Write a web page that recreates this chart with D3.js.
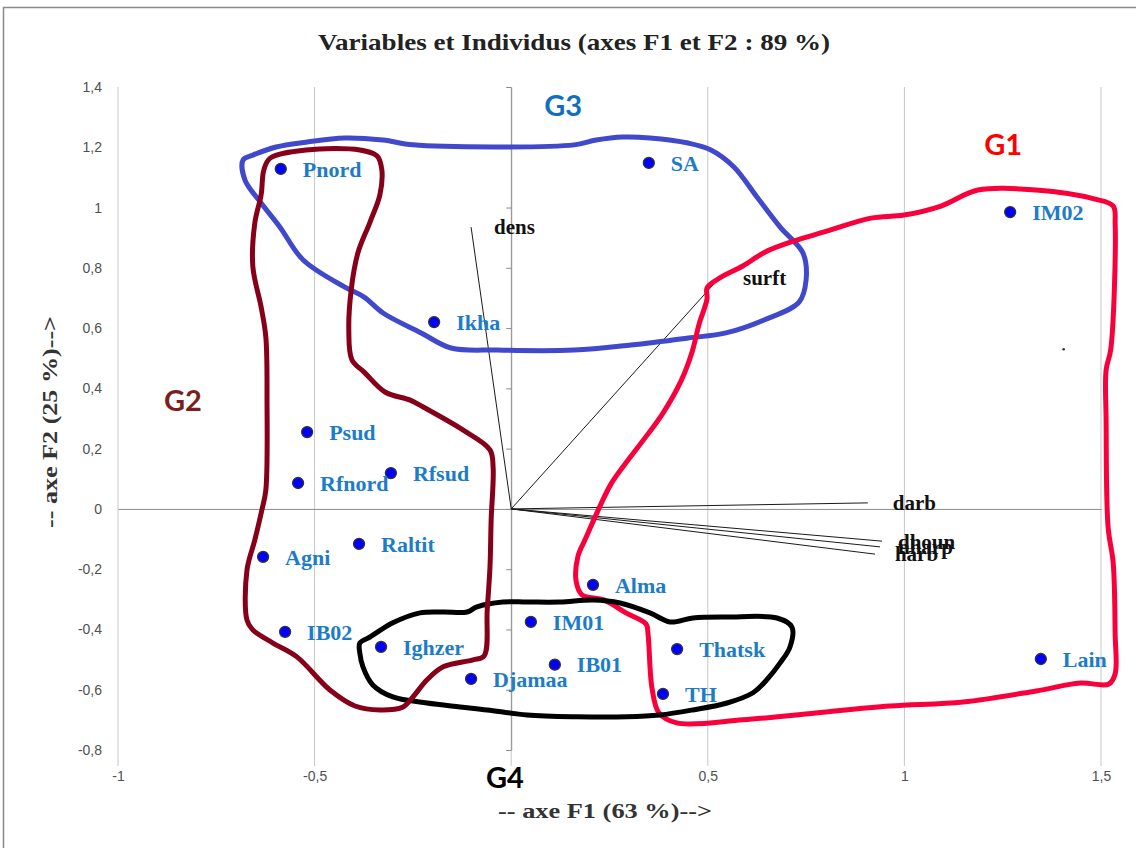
<!DOCTYPE html>
<html>
<head>
<meta charset="utf-8">
<script src="https://cdn.jsdelivr.net/npm/d3@7"></script>
<style>
  body { margin: 0; background: #fff; }
</style>
</head>
<body>
<div id="biplot"></div>
<script>
// individus (coordonnees F1 / F2)
var individus = ["Pnord","SA","IM02","Ikha","Psud","Rfnord","Rfsud","Agni","Raltit","IB02",
                 "Alma","IM01","Ighzer","Djamaa","IB01","Thatsk","TH","Lain"];
var indF1 = [-0.586, 0.350, 1.269, -0.196, -0.519, -0.542, -0.306, -0.631, -0.387, -0.575,
             0.208, 0.050, -0.331, -0.102, 0.111, 0.422, 0.386, 1.347];
var indF2 = [1.128, 1.148, 0.985, 0.620, 0.255, 0.086, 0.119, -0.159, -0.116, -0.408,
             -0.252, -0.375, -0.458, -0.564, -0.517, -0.465, -0.614, -0.498];

// variables (vecteurs)
var variables = ["dens","surft","darb","dhoun","nharp","harb"];
var varF1 = [-0.102, 0.531, 0.907, 0.943, 0.938, 0.925];
var varF2 = [0.935, 0.769, 0.020, -0.107, -0.126, -0.150];
var varDecalage = [23, 23, 25, 16, 18, 20];

// point isole sans etiquette
var pointSeul = [1.405, 0.530];

// groupes
var groupes = ["G1","G2","G3","G4"];
var groupeCouleurs = ["#f8003c","#850018","#4048cc","#000000"];
var groupeTexteCouleurs = ["#ff0000","#7a1f1f","#1070c0","#000000"];
var groupeLabelF1 = [1.251, -0.835, 0.132, -0.016];
var groupeLabelF2 = [1.208, 0.361, 1.340, -0.893];

var contourG1 = [[0.498,0.733],[0.526,0.763],[0.589,0.806],[0.645,0.852],[0.719,0.889],[0.796,0.919],
  [0.915,0.965],[0.999,0.975],[1.093,1.005],[1.187,1.058],[1.335,1.058],[1.485,1.028],[1.531,1.005],
  [1.536,0.945],[1.525,0.531],[1.513,0.461],[1.513,0.295],[1.518,-0.060],[1.531,-0.179],[1.536,-0.415],
  [1.536,-0.547],[1.520,-0.581],[1.447,-0.578],[1.335,-0.604],[1.149,-0.641],[0.963,-0.654],
  [0.775,-0.677],[0.589,-0.700],[0.421,-0.710],[0.376,-0.677],[0.358,-0.594],[0.348,-0.415],
  [0.343,-0.382],[0.292,-0.345],[0.236,-0.302],[0.180,-0.285],[0.165,-0.239],[0.170,-0.156],
  [0.190,-0.096],[0.218,-0.013],[0.254,0.083],[0.292,0.153],[0.348,0.249],[0.386,0.318],
  [0.432,0.425],[0.460,0.521],[0.478,0.614],[0.498,0.697]];

var contourG2 = [[-0.629,1.125],[-0.613,1.164],[-0.522,1.191],[-0.385,1.191],[-0.341,1.171],[-0.329,1.125],
  [-0.334,1.042],[-0.359,0.952],[-0.390,0.849],[-0.407,0.726],[-0.413,0.594],[-0.405,0.494],
  [-0.374,0.454],[-0.321,0.388],[-0.257,0.361],[-0.224,0.338],[-0.123,0.262],[-0.054,0.196],
  [-0.046,0.139],[-0.051,-0.037],[-0.054,-0.193],[-0.061,-0.335],[-0.069,-0.488],[-0.097,-0.501],
  [-0.173,-0.524],[-0.214,-0.567],[-0.250,-0.624],[-0.275,-0.657],[-0.334,-0.667],[-0.397,-0.654],
  [-0.461,-0.601],[-0.545,-0.491],[-0.606,-0.445],[-0.657,-0.402],[-0.672,-0.369],[-0.672,-0.203],
  [-0.652,-0.103],[-0.634,-0.003],[-0.624,0.063],[-0.621,0.361],[-0.624,0.570],[-0.636,0.670],
  [-0.657,0.803],[-0.652,0.949],[-0.636,1.042]];

var contourG3 = [[-0.682,1.158],[-0.677,1.091],[-0.636,1.015],[-0.588,0.935],[-0.529,0.826],[-0.423,0.736],
  [-0.374,0.703],[-0.326,0.650],[-0.229,0.584],[-0.153,0.534],[-0.036,0.527],[0.160,0.527],
  [0.305,0.544],[0.450,0.567],[0.546,0.584],[0.643,0.627],[0.732,0.686],[0.750,0.760],
  [0.742,0.849],[0.684,0.935],[0.625,1.035],[0.567,1.134],[0.508,1.191],[0.450,1.214],
  [0.353,1.231],[0.284,1.234],[0.216,1.224],[0.160,1.208],[-0.036,1.201],[-0.250,1.208],
  [-0.326,1.224],[-0.423,1.231],[-0.522,1.217],[-0.598,1.201],[-0.657,1.174]];

var contourG4 = [[-0.385,-0.445],[-0.359,-0.425],[-0.301,-0.378],[-0.232,-0.345],[-0.173,-0.342],
  [-0.112,-0.342],[-0.087,-0.325],[-0.021,-0.309],[0.040,-0.309],[0.124,-0.309],[0.208,-0.302],
  [0.277,-0.312],[0.353,-0.345],[0.404,-0.375],[0.462,-0.362],[0.549,-0.359],[0.676,-0.362],
  [0.714,-0.392],[0.709,-0.458],[0.684,-0.511],[0.650,-0.567],[0.615,-0.610],[0.549,-0.644],
  [0.462,-0.667],[0.378,-0.684],[0.294,-0.690],[0.167,-0.690],[0.040,-0.684],[-0.061,-0.667],
  [-0.130,-0.657],[-0.214,-0.644],[-0.301,-0.624],[-0.352,-0.584],[-0.377,-0.524],[-0.385,-0.478]];

var xTicks = [-1, -0.5, 0, 0.5, 1, 1.5];
var xTickLabels = ["-1", "-0,5", "", "0,5", "1", "1,5"];
var yTicks = [-0.8, -0.6, -0.4, -0.2, 0, 0.2, 0.4, 0.6, 0.8, 1, 1.2, 1.4];
var yTickLabels = ["-0,8", "-0,6", "-0,4", "-0,2", "0", "0,2", "0,4", "0,6", "0,8", "1", "1,2", "1,4"];

var margin = {top: 87, right: 35, bottom: 98, left: 118},
    width = 1136 - margin.left - margin.right,
    height = 848 - margin.top - margin.bottom;

var root = d3.select("#biplot")
  .append("svg")
    .attr("width", 1136)
    .attr("height", 848);

// cadre
root.append("rect")
  .attr("x", 3.5).attr("y", 7.5)
  .attr("width", 1140).attr("height", 850)
  .attr("fill", "none").attr("stroke", "#8a8a8a").attr("stroke-width", 1.5);

root.append("text")
  .attr("x", 574).attr("y", 50)
  .attr("text-anchor", "middle")
  .attr("textLength", 512).attr("lengthAdjust", "spacingAndGlyphs")
  .style("font-family", "Liberation Serif, serif").style("font-weight", "bold")
  .style("font-size", "23px").style("fill", "#222")
  .text("Variables et Individus  (axes F1 et F2 : 89 %)");

var svg = root.append("g")
  .attr("transform", "translate(" + margin.left + "," + margin.top + ")");

var x = d3.scaleLinear().domain([-1, 1.5]).range([0, width]);
var y = d3.scaleLinear().domain([-0.8, 1.4]).range([height, 0]);

// grille verticale
svg.selectAll("line.grid")
  .data(xTicks)
  .enter().append("line")
    .attr("class", "grid")
    .attr("x1", d => x(d)).attr("x2", d => x(d))
    .attr("y1", 0).attr("y2", height + 16)
    .attr("stroke", "#c6c6c6").attr("stroke-width", 1);

// libelles axe vertical (a gauche)
var yLab = svg.append("g")
  .attr("transform", "translate(-16,0)")
  .call(d3.axisLeft(y).tickValues(yTicks).tickSize(0).tickPadding(0)
    .tickFormat((d, i) => yTickLabels[i]));
yLab.select(".domain").remove();
yLab.selectAll("text")
  .style("font-family", "Liberation Sans Narrow, Liberation Sans, sans-serif")
  .style("font-size", "14px").style("fill", "#505050");

// axe vertical en x = 0
var yAxe = svg.append("g")
  .attr("transform", "translate(" + x(0) + ",0)")
  .call(d3.axisLeft(y).tickValues(yTicks).tickSize(5).tickSizeOuter(0).tickFormat(""));
yAxe.selectAll("path, line").attr("stroke", "#8c8c8c");

// axe horizontal en y = 0
var xAxe = svg.append("g")
  .attr("transform", "translate(0," + y(0) + ")")
  .call(d3.axisBottom(x).tickValues([]).tickSizeOuter(0));
xAxe.selectAll("path").attr("stroke", "#8c8c8c");

// libelles axe horizontal
var xLab = svg.append("g")
  .attr("transform", "translate(0," + (height + 18) + ")")
  .call(d3.axisBottom(x).tickValues(xTicks).tickSize(0)
    .tickFormat((d, i) => xTickLabels[i]));
xLab.select(".domain").remove();
xLab.selectAll("text")
  .style("font-family", "Liberation Sans Narrow, Liberation Sans, sans-serif")
  .style("font-size", "14px").style("fill", "#505050");

// titres d'axes
root.append("text")
  .attr("x", 605).attr("y", 818)
  .attr("text-anchor", "middle")
  .attr("textLength", 214).attr("lengthAdjust", "spacingAndGlyphs")
  .style("font-family", "Liberation Serif, serif").style("font-weight", "bold")
  .style("font-size", "20px").style("fill", "#333")
  .text("-- axe F1 (63 %)-->");

root.append("text")
  .attr("transform", "translate(57,422) rotate(-90)")
  .attr("text-anchor", "middle")
  .attr("textLength", 212).attr("lengthAdjust", "spacingAndGlyphs")
  .style("font-family", "Liberation Serif, serif").style("font-weight", "bold")
  .style("font-size", "21px").style("fill", "#333")
  .text("-- axe F2 (25 %)-->");

// vecteurs des variables
var vars = variables.map((v, i) => ({nom: v, f1: varF1[i], f2: varF2[i], dx: varDecalage[i]}));
svg.selectAll("line.vect")
  .data(vars)
  .enter().append("line")
    .attr("class", "vect")
    .attr("x1", x(0)).attr("y1", y(0))
    .attr("x2", d => x(d.f1)).attr("y2", d => y(d.f2))
    .attr("stroke", "#1a1a1a").attr("stroke-width", 1);

svg.selectAll("text.vect")
  .data(vars)
  .enter().append("text")
    .attr("class", "vect")
    .attr("x", d => x(d.f1) + d.dx).attr("y", d => y(d.f2))
    .attr("dy", "0.35em")
    .style("font-family", "Liberation Serif, serif").style("font-weight", "bold")
    .style("font-size", "21px").style("fill", "#111")
    .text(d => d.nom);

// individus
var inds = individus.map((n, i) => ({nom: n, f1: indF1[i], f2: indF2[i]}));
svg.selectAll("circle.ind")
  .data(inds)
  .enter().append("circle")
    .attr("class", "ind")
    .attr("cx", d => x(d.f1)).attr("cy", d => y(d.f2))
    .attr("r", 5.5)
    .attr("fill", "#0000ff").attr("stroke", "#333").attr("stroke-width", 1.3);

svg.selectAll("text.ind")
  .data(inds)
  .enter().append("text")
    .attr("class", "ind")
    .attr("x", d => x(d.f1) + 22).attr("y", d => y(d.f2))
    .attr("dy", "0.35em")
    .style("font-family", "Liberation Serif, serif").style("font-weight", "bold")
    .style("font-size", "22px").style("fill", "#1c7cc8")
    .text(d => d.nom);

svg.append("circle")
  .attr("cx", x(pointSeul[0])).attr("cy", y(pointSeul[1]))
  .attr("r", 1.3).attr("fill", "#333");

// contours des groupes
var contour = d3.line()
  .x(d => x(d[0]))
  .y(d => y(d[1]))
  .curve(d3.curveCatmullRomClosed.alpha(0.5));

var contours = [contourG3, contourG1, contourG4, contourG2];
var ordre = [2, 0, 3, 1];
svg.selectAll("path.groupe")
  .data(contours)
  .enter().append("path")
    .attr("class", "groupe")
    .attr("d", contour)
    .attr("fill", "none")
    .attr("stroke", (d, i) => groupeCouleurs[ordre[i]])
    .attr("stroke-width", 5)
    .attr("stroke-linejoin", "round");

svg.selectAll("text.groupe")
  .data(groupes)
  .enter().append("text")
    .attr("class", "groupe")
    .attr("x", (d, i) => x(groupeLabelF1[i])).attr("y", (d, i) => y(groupeLabelF2[i]))
    .attr("dy", "0.36em")
    .attr("text-anchor", "middle")
    .style("font-family", "Lato, sans-serif").style("font-weight", "bold")
    .style("font-size", "29px")
    .style("fill", (d, i) => groupeTexteCouleurs[i])
    .text(d => d);
</script>
</body>
</html>
